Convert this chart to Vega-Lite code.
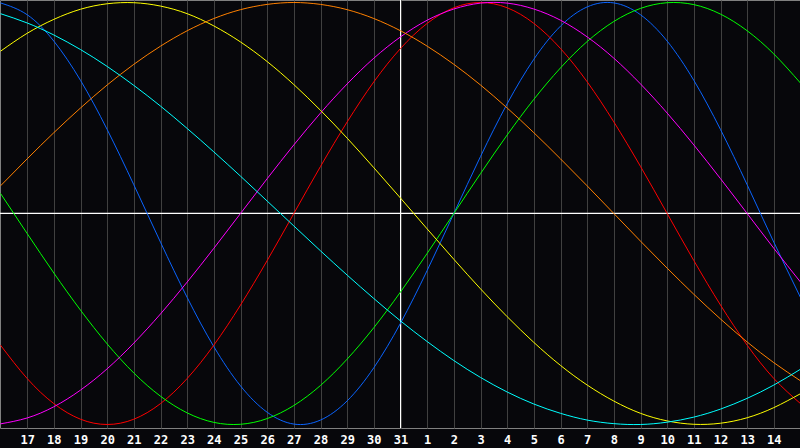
{
  "$schema": "https://vega.github.io/schema/vega-lite/v6.json",
  "width": 800,
  "height": 428,
  "autosize": "none",
  "padding": {"left": 0, "top": 0, "right": 0, "bottom": 20},
  "background": "#07070b",
  "data": {
    "values": [
      {"t": 0, "p23": 0.998, "p28": -0.624, "p33": 0.095, "p38": -0.997, "p43": 0.769, "p48": 0.131, "p53": 0.947},
      {"t": 1, "p23": 0.942, "p28": -0.782, "p33": -0.095, "p38": -0.969, "p43": 0.854, "p48": 0.259, "p53": 0.903},
      {"t": 2, "p23": 0.817, "p28": -0.901, "p33": -0.282, "p38": -0.916, "p43": 0.92, "p48": 0.383, "p53": 0.846},
      {"t": 3, "p23": 0.631, "p28": -0.975, "p33": -0.458, "p38": -0.837, "p43": 0.968, "p48": 0.5, "p53": 0.777},
      {"t": 4, "p23": 0.398, "p28": -1, "p33": -0.618, "p38": -0.736, "p43": 0.994, "p48": 0.609, "p53": 0.697},
      {"t": 5, "p23": 0.136, "p28": -0.975, "p33": -0.756, "p38": -0.614, "p43": 0.999, "p48": 0.707, "p53": 0.607},
      {"t": 6, "p23": -0.136, "p28": -0.901, "p33": -0.866, "p38": -0.476, "p43": 0.983, "p48": 0.793, "p53": 0.509},
      {"t": 7, "p23": -0.398, "p28": -0.782, "p33": -0.945, "p38": -0.325, "p43": 0.947, "p48": 0.866, "p53": 0.403},
      {"t": 8, "p23": -0.631, "p28": -0.624, "p33": -0.99, "p38": -0.165, "p43": 0.889, "p48": 0.924, "p53": 0.292},
      {"t": 9, "p23": -0.817, "p28": -0.434, "p33": -0.999, "p38": 0, "p43": 0.813, "p48": 0.966, "p53": 0.177},
      {"t": 10, "p23": -0.942, "p28": -0.223, "p33": -0.972, "p38": 0.165, "p43": 0.72, "p48": 0.991, "p53": 0.059},
      {"t": 11, "p23": -0.998, "p28": 0, "p33": -0.91, "p38": 0.325, "p43": 0.611, "p48": 1, "p53": -0.059},
      {"t": 12, "p23": -0.979, "p28": 0.223, "p33": -0.815, "p38": 0.476, "p43": 0.489, "p48": 0.991, "p53": -0.177},
      {"t": 13, "p23": -0.888, "p28": 0.434, "p33": -0.69, "p38": 0.614, "p43": 0.357, "p48": 0.966, "p53": -0.292},
      {"t": 14, "p23": -0.731, "p28": 0.624, "p33": -0.541, "p38": 0.736, "p43": 0.217, "p48": 0.924, "p53": -0.403},
      {"t": 15, "p23": -0.52, "p28": 0.782, "p33": -0.372, "p38": 0.837, "p43": 0.073, "p48": 0.866, "p53": -0.509},
      {"t": 16, "p23": -0.27, "p28": 0.901, "p33": -0.189, "p38": 0.916, "p43": -0.073, "p48": 0.793, "p53": -0.607},
      {"t": 17, "p23": 0, "p28": 0.975, "p33": 0, "p38": 0.969, "p43": -0.217, "p48": 0.707, "p53": -0.697},
      {"t": 18, "p23": 0.27, "p28": 1, "p33": 0.189, "p38": 0.997, "p43": -0.357, "p48": 0.609, "p53": -0.777},
      {"t": 19, "p23": 0.52, "p28": 0.975, "p33": 0.372, "p38": 0.997, "p43": -0.489, "p48": 0.5, "p53": -0.846},
      {"t": 20, "p23": 0.731, "p28": 0.901, "p33": 0.541, "p38": 0.969, "p43": -0.611, "p48": 0.383, "p53": -0.903},
      {"t": 21, "p23": 0.888, "p28": 0.782, "p33": 0.69, "p38": 0.916, "p43": -0.72, "p48": 0.259, "p53": -0.947},
      {"t": 22, "p23": 0.979, "p28": 0.624, "p33": 0.815, "p38": 0.837, "p43": -0.813, "p48": 0.131, "p53": -0.979},
      {"t": 23, "p23": 0.998, "p28": 0.434, "p33": 0.91, "p38": 0.736, "p43": -0.889, "p48": 0, "p53": -0.996},
      {"t": 24, "p23": 0.942, "p28": 0.223, "p33": 0.972, "p38": 0.614, "p43": -0.947, "p48": -0.131, "p53": -1},
      {"t": 25, "p23": 0.817, "p28": 0, "p33": 0.999, "p38": 0.476, "p43": -0.983, "p48": -0.259, "p53": -0.989},
      {"t": 26, "p23": 0.631, "p28": -0.223, "p33": 0.99, "p38": 0.325, "p43": -0.999, "p48": -0.383, "p53": -0.965},
      {"t": 27, "p23": 0.398, "p28": -0.434, "p33": 0.945, "p38": 0.165, "p43": -0.994, "p48": -0.5, "p53": -0.927},
      {"t": 28, "p23": 0.136, "p28": -0.624, "p33": 0.866, "p38": 0, "p43": -0.968, "p48": -0.609, "p53": -0.876},
      {"t": 29, "p23": -0.136, "p28": -0.782, "p33": 0.756, "p38": -0.165, "p43": -0.92, "p48": -0.707, "p53": -0.813},
      {"t": 30, "p23": -0.398, "p28": -0.901, "p33": 0.618, "p38": -0.325, "p43": -0.854, "p48": -0.793, "p53": -0.738}
    ]
  },
  "layer": [
    {
      "mark": {"type": "rule", "color": "#ffffff", "strokeWidth": 1},
      "encoding": {"y": {"datum": 0, "type": "quantitative", "scale": {"domain": [-1.0166, 1.0118], "nice": false, "zero": false}, "axis": null}}
    },
    {
      "mark": {"type": "rule", "color": "#ffffff", "strokeWidth": 1},
      "encoding": {
        "x": {
          "datum": 15,
          "type": "quantitative",
          "scale": {"domain": [-0.01875, 29.98125], "nice": false, "zero": false},
          "axis": {
            "values": [1, 2, 3, 4, 5, 6, 7, 8, 9, 10, 11, 12, 13, 14, 15, 16, 17, 18, 19, 20, 21, 22, 23, 24, 25, 26, 27, 28, 29],
            "labelExpr": "datum.value <= 15 ? datum.value + 16 : datum.value - 15",
            "title": null,
            "ticks": false,
            "domain": false,
            "grid": true,
            "gridColor": "#404040",
            "gridWidth": 1,
            "labelColor": "#ffffff",
            "labelFont": "DejaVu Sans Mono",
            "labelFontWeight": "bold",
            "labelFontSize": 12,
            "labelPadding": 6,
            "labelFlush": false,
            "labelOverlap": false
          }
        }
      }
    },
    {
      "transform": [
        {"fold": ["p23", "p28", "p33", "p38", "p43", "p48", "p53"], "as": ["cycle", "v"]}
      ],
      "mark": {"type": "line", "strokeWidth": 1, "interpolate": "natural"},
      "encoding": {
        "x": {
          "field": "t",
          "type": "quantitative",
          "axis": {
            "values": [1, 2, 3, 4, 5, 6, 7, 8, 9, 10, 11, 12, 13, 14, 15, 16, 17, 18, 19, 20, 21, 22, 23, 24, 25, 26, 27, 28, 29],
            "labelExpr": "datum.value <= 15 ? datum.value + 16 : datum.value - 15",
            "title": null,
            "ticks": false,
            "domain": false,
            "grid": true,
            "gridColor": "#404040",
            "gridWidth": 1,
            "labelColor": "#ffffff",
            "labelFont": "DejaVu Sans Mono",
            "labelFontWeight": "bold",
            "labelFontSize": 12,
            "labelPadding": 6,
            "labelFlush": false,
            "labelOverlap": false
          }
        },
        "y": {"field": "v", "type": "quantitative"},
        "color": {
          "field": "cycle",
          "type": "nominal",
          "scale": {
            "domain": ["p23", "p28", "p33", "p38", "p43", "p48", "p53"],
            "range": ["#0a64ff", "#ff0000", "#00ff00", "#ff00ff", "#ffff00", "#ff8000", "#00ffff"]
          },
          "legend": null
        }
      }
    }
  ],
  "config": {
    "view": {"stroke": "#808080", "strokeWidth": 1}
  }
}
